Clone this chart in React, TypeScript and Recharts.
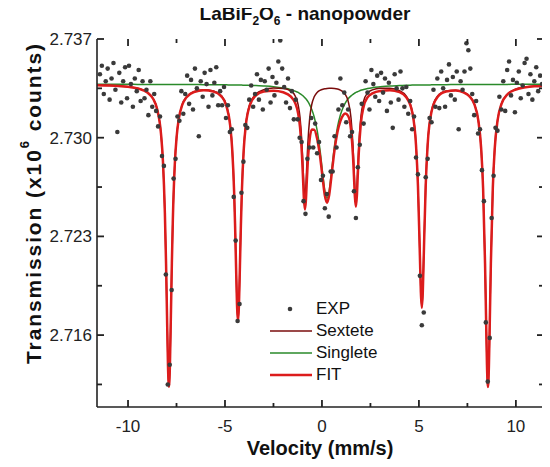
import React from 'react'
import { ComposedChart, Line, Scatter, XAxis, YAxis, Legend } from 'recharts'

const FONT = "'Liberation Sans', Arial, sans-serif"
const AXIS = '#222222'

// measured spectrum (velocity in mm/s, counts in 10^6)
const expVelocity = [
  -11.45, -11.35, -11.25, -11.15, -11.05, -10.95, -10.85, -10.75, -10.65, -10.55,
  -10.45, -10.35, -10.25, -10.15, -10.05, -9.95, -9.85, -9.75, -9.65, -9.55,
  -9.45, -9.35, -9.25, -9.15, -9.05, -8.95, -8.85, -8.75, -8.65, -8.55,
  -8.45, -8.35, -8.25, -8.15, -8.05, -7.95, -7.85, -7.75, -7.65, -7.55,
  -7.45, -7.35, -7.25, -7.15, -7.05, -6.95, -6.85, -6.75, -6.65, -6.55,
  -6.45, -6.35, -6.25, -6.15, -6.05, -5.95, -5.85, -5.75, -5.65, -5.55,
  -5.45, -5.35, -5.25, -5.15, -5.05, -4.95, -4.85, -4.75, -4.65, -4.55,
  -4.45, -4.35, -4.25, -4.15, -4.05, -3.95, -3.85, -3.75, -3.65, -3.55,
  -3.45, -3.35, -3.25, -3.15, -3.05, -2.95, -2.85, -2.75, -2.65, -2.55,
  -2.45, -2.35, -2.25, -2.15, -2.05, -1.95, -1.85, -1.75, -1.65, -1.55,
  -1.45, -1.35, -1.25, -1.15, -1.05, -0.95, -0.85, -0.75, -0.65, -0.55,
  -0.45, -0.35, -0.25, -0.15, -0.05, 0.05, 0.15, 0.25, 0.35, 0.45,
  0.55, 0.65, 0.75, 0.85, 0.95, 1.05, 1.15, 1.25, 1.35, 1.45,
  1.55, 1.65, 1.75, 1.85, 1.95, 2.05, 2.15, 2.25, 2.35, 2.45,
  2.55, 2.65, 2.75, 2.85, 2.95, 3.05, 3.15, 3.25, 3.35, 3.45,
  3.55, 3.65, 3.75, 3.85, 3.95, 4.05, 4.15, 4.25, 4.35, 4.45,
  4.55, 4.65, 4.75, 4.85, 4.95, 5.05, 5.15, 5.25, 5.35, 5.45,
  5.55, 5.65, 5.75, 5.85, 5.95, 6.05, 6.15, 6.25, 6.35, 6.45,
  6.55, 6.65, 6.75, 6.85, 6.95, 7.05, 7.15, 7.25, 7.35, 7.45,
  7.55, 7.65, 7.75, 7.85, 7.95, 8.05, 8.15, 8.25, 8.35, 8.45,
  8.55, 8.65, 8.75, 8.85, 8.95, 9.05, 9.15, 9.25, 9.35, 9.45,
  9.55, 9.65, 9.75, 9.85, 9.95, 10.05, 10.15, 10.25, 10.35, 10.45,
  10.55, 10.65, 10.75, 10.85, 10.95, 11.05, 11.15, 11.25, 11.35,
]

const expCounts = [
  2.7345, 2.7351, 2.7331, 2.734, 2.7349, 2.7327, 2.7342, 2.7353, 2.7334, 2.7304,
  2.7346, 2.7325, 2.734, 2.735, 2.7328, 2.7351, 2.7338, 2.7322, 2.7342, 2.7333,
  2.7348, 2.7326, 2.734, 2.7328, 2.7334, 2.7316, 2.734, 2.7322, 2.7331, 2.7319,
  2.7308, 2.7315, 2.7287, 2.728, 2.7203, 2.7125, 2.7139, 2.7192, 2.7271, 2.7285,
  2.7315, 2.7312, 2.7333, 2.7317, 2.7331, 2.7344, 2.7324, 2.7341, 2.732, 2.7349,
  2.7335, 2.7301, 2.734, 2.7329, 2.7346, 2.7338, 2.7322, 2.7348, 2.733, 2.7339,
  2.735, 2.7323, 2.7333, 2.7323, 2.7336, 2.7314, 2.7323, 2.7304, 2.7306, 2.7258,
  2.7227, 2.717, 2.7182, 2.7261, 2.7283, 2.7309, 2.7307, 2.7327, 2.7337, 2.7322,
  2.7331, 2.7345, 2.7327, 2.7341, 2.732, 2.734, 2.7334, 2.7349, 2.7325, 2.7343,
  2.733, 2.7339, 2.7354, 2.7369, 2.7349, 2.7336, 2.7325, 2.7342, 2.7321, 2.7333,
  2.7313, 2.7327, 2.7313, 2.73, 2.7297, 2.7255, 2.7246, 2.7285, 2.7293, 2.7314,
  2.7293, 2.731, 2.7289, 2.7297, 2.727, 2.7273, 2.725, 2.726, 2.7244, 2.7276,
  2.7276, 2.7301, 2.7293, 2.732, 2.7342, 2.7323, 2.7332, 2.7311, 2.732, 2.7301,
  2.7304, 2.7262, 2.7243, 2.7279, 2.7295, 2.7324, 2.731, 2.734, 2.7332, 2.732,
  2.7348, 2.7338, 2.7329, 2.7344, 2.7326, 2.7346, 2.7332, 2.7342, 2.7319, 2.7339,
  2.7325, 2.7307, 2.7345, 2.7335, 2.7327, 2.7347, 2.7335, 2.7322, 2.7336, 2.7317,
  2.7326, 2.7306, 2.7315, 2.7286, 2.7274, 2.7202, 2.7167, 2.7176, 2.7272, 2.7285,
  2.7314, 2.7311, 2.7334, 2.7322, 2.7342, 2.7321, 2.7347, 2.7335, 2.7322, 2.7341,
  2.7352, 2.733, 2.7343, 2.7327, 2.7347, 2.7306, 2.734, 2.7334, 2.7347, 2.7367,
  2.7362, 2.7349, 2.7331, 2.7316, 2.7326, 2.7303, 2.7306, 2.7277, 2.7255, 2.7169,
  2.7127, 2.7158, 2.7243, 2.7273, 2.7307, 2.7305, 2.7329, 2.732, 2.734, 2.7319,
  2.7348, 2.7354, 2.733, 2.7341, 2.7318, 2.7339, 2.7347, 2.7328, 2.7337, 2.7353,
  2.7356, 2.7331, 2.7345, 2.7327, 2.734, 2.735, 2.7333, 2.7344, 2.7338,
]

// fitted curves
const curveVelocity = [
  -11.6, -11, -10.5, -10, -9.5, -9, -8.7, -8.5, -8.3, -8.2,
  -8.1, -8.04, -7.99, -7.94, -7.89, -7.84, -7.79, -7.74, -7.69, -7.59,
  -7.49, -7.39, -7.2, -7.0, -6.6, -6.1, -5.6, -5.2, -4.93, -4.73,
  -4.63, -4.53, -4.48, -4.43, -4.38, -4.33, -4.28, -4.23, -4.18, -4.13,
  -4.03, -3.93, -3.73, -3.4, -3.0, -2.5, -2.0, -1.6, -1.38, -1.23,
  -1.13, -1.03, -0.98, -0.93, -0.88, -0.83, -0.78, -0.73, -0.63, -0.52,
  -0.4, -0.25, -0.1, 0.05, 0.15, 0.26, 0.37, 0.5, 0.65, 0.8,
  0.95, 1.1, 1.2, 1.35, 1.5, 1.6, 1.65, 1.7, 1.75, 1.8,
  1.85, 1.9, 2.0, 2.15, 2.35, 2.6, 3.0, 3.5, 4.0, 4.35,
  4.65, 4.85, 4.95, 5.05, 5.1, 5.15, 5.2, 5.25, 5.35, 5.45,
  5.65, 5.95, 6.4, 6.9, 7.3, 7.6, 7.86, 8.06, 8.21, 8.31,
  8.41, 8.46, 8.51, 8.56, 8.61, 8.66, 8.71, 8.81, 8.91, 9.06,
  9.26, 9.56, 10.0, 10.5, 11.0, 11.45,
]

const fitCurve = [
  2.73372, 2.7337, 2.73367, 2.73361, 2.73349, 2.7332, 2.73274, 2.73203, 2.73028, 2.72834,
  2.72468, 2.72112, 2.7174, 2.71387, 2.71234, 2.71387, 2.71738, 2.7211, 2.72415, 2.72806,
  2.73012, 2.73127, 2.73235, 2.73284, 2.73324, 2.73336, 2.73328, 2.73295, 2.73226, 2.73084,
  2.72923, 2.72618, 2.7238, 2.72089, 2.71815, 2.71694, 2.71815, 2.72089, 2.7238, 2.72618,
  2.72923, 2.73083, 2.73225, 2.73301, 2.73327, 2.73333, 2.73322, 2.73291, 2.73246, 2.73174,
  2.73074, 2.72875, 2.72724, 2.72567, 2.72491, 2.72552, 2.72693, 2.72829, 2.72994, 2.73058,
  2.73057, 2.72994, 2.72869, 2.72696, 2.72589, 2.72539, 2.72592, 2.7274, 2.72914, 2.7304,
  2.73118, 2.73161, 2.73172, 2.73155, 2.73054, 2.72872, 2.72727, 2.72578, 2.7251, 2.72585,
  2.72742, 2.72894, 2.73093, 2.73222, 2.73286, 2.73314, 2.73332, 2.73336, 2.73323, 2.73286,
  2.73184, 2.72948, 2.72661, 2.72165, 2.71906, 2.71794, 2.71906, 2.72165, 2.72662, 2.72949,
  2.73184, 2.73287, 2.73327, 2.73334, 2.73321, 2.73294, 2.73236, 2.73125, 2.72923, 2.7264,
  2.72108, 2.71737, 2.71385, 2.71232, 2.71385, 2.71737, 2.72108, 2.72641, 2.72924, 2.73126,
  2.7324, 2.73306, 2.73342, 2.73358, 2.73365, 2.73368,
]

const sextetCurve = [
  2.73373, 2.73371, 2.73368, 2.73362, 2.73351, 2.73322, 2.73276, 2.73205, 2.7303, 2.72836,
  2.7247, 2.72114, 2.71742, 2.71389, 2.71236, 2.71389, 2.71741, 2.72113, 2.72417, 2.72808,
  2.73014, 2.73129, 2.73237, 2.73287, 2.73327, 2.7334, 2.73332, 2.733, 2.73232, 2.7309,
  2.72929, 2.72624, 2.72386, 2.72095, 2.71821, 2.71701, 2.71822, 2.72096, 2.72387, 2.72625,
  2.7293, 2.73091, 2.73234, 2.73311, 2.7334, 2.73352, 2.73349, 2.73331, 2.73296, 2.73234,
  2.73142, 2.72953, 2.72807, 2.72657, 2.72588, 2.72657, 2.72807, 2.72953, 2.73141, 2.73239,
  2.7329, 2.73321, 2.73336, 2.73344, 2.73347, 2.73349, 2.7335, 2.7335, 2.73349, 2.73345,
  2.73337, 2.73323, 2.73307, 2.73259, 2.73138, 2.72944, 2.72794, 2.72641, 2.7257, 2.72641,
  2.72794, 2.72944, 2.73138, 2.7326, 2.73317, 2.73339, 2.73351, 2.7335, 2.73333, 2.73295,
  2.73191, 2.72955, 2.72668, 2.72171, 2.71912, 2.718, 2.71912, 2.72171, 2.72668, 2.72955,
  2.73189, 2.73292, 2.73331, 2.73337, 2.73324, 2.73297, 2.73239, 2.73127, 2.72925, 2.72643,
  2.72111, 2.71739, 2.71387, 2.71234, 2.71387, 2.71739, 2.72111, 2.72643, 2.72926, 2.73128,
  2.73242, 2.73308, 2.73344, 2.73359, 2.73366, 2.73369,
]

const singletCurve = [
  2.73379, 2.73379, 2.73379, 2.73379, 2.73378, 2.73378, 2.73378, 2.73378, 2.73378, 2.73378,
  2.73378, 2.73378, 2.73378, 2.73378, 2.73378, 2.73378, 2.73378, 2.73378, 2.73378, 2.73378,
  2.73378, 2.73378, 2.73377, 2.73377, 2.73377, 2.73376, 2.73376, 2.73375, 2.73375, 2.73374,
  2.73374, 2.73374, 2.73374, 2.73374, 2.73373, 2.73373, 2.73373, 2.73373, 2.73373, 2.73373,
  2.73372, 2.73372, 2.73371, 2.7337, 2.73367, 2.73362, 2.73353, 2.73341, 2.7333, 2.73321,
  2.73312, 2.73303, 2.73297, 2.7329, 2.73283, 2.73276, 2.73267, 2.73257, 2.73233, 2.73198,
  2.73147, 2.73053, 2.72913, 2.72732, 2.72622, 2.7257, 2.72622, 2.7277, 2.72945, 2.73075,
  2.73161, 2.73218, 2.73246, 2.73276, 2.73297, 2.73308, 2.73312, 2.73317, 2.73321, 2.73324,
  2.73327, 2.7333, 2.73336, 2.73342, 2.73349, 2.73355, 2.73361, 2.73367, 2.7337, 2.73372,
  2.73373, 2.73374, 2.73374, 2.73374, 2.73374, 2.73374, 2.73374, 2.73374, 2.73374, 2.73374,
  2.73375, 2.73376, 2.73376, 2.73377, 2.73377, 2.73377, 2.73378, 2.73378, 2.73378, 2.73378,
  2.73378, 2.73378, 2.73378, 2.73378, 2.73378, 2.73378, 2.73378, 2.73378, 2.73378, 2.73378,
  2.73378, 2.73378, 2.73379, 2.73379, 2.73379, 2.73379,
]

const seriesNames = ['EXP', 'Sextete', 'Singlete', 'FIT']
const seriesColors = ['#3a3a3a', '#7a0c0c', '#2a8a2a', '#dc1c1c']

const xMajorTicks = [-10, -5, 0, 5, 10]
const xMinorTicks = [-7.5, -2.5, 2.5, 7.5]
const yMajorTicks = [2.716, 2.723, 2.73, 2.737]
const yMinorTicks = [2.7125, 2.7195, 2.7265, 2.7335]

const xDomain = [-11.6, 11.45]
const yDomain = [2.7109, 2.737]

// plot box in page pixels, same numbers as the chart margins / axis sizes below
const PLOT = { left: 97, right: 544, top: 39, bottom: 407 }

const expData = expVelocity.map((v, i) => ({ v, y: expCounts[i] }))
const curveData = curveVelocity.map((v, i) => ({
  v,
  fit: fitCurve[i],
  sex: sextetCurve[i],
  sing: singletCurve[i],
}))

const axisLine = { stroke: AXIS, strokeWidth: 1.6 }

const BottomLabel = (props: any) => (
  <text x={props.x} y={Number(props.y) + 25} textAnchor="middle" fontSize={17} fontFamily={FONT} fill="#222">
    {props.payload.value}
  </text>
)

const LeftLabel = (props: any) => (
  <text x={Number(props.x) - 5} y={props.y} dy="0.35em" textAnchor="end" fontSize={17} fontFamily={FONT} fill="#222">
    {props.payload.value.toFixed(3)}
  </text>
)

const YTitle = () => (
  <text
    transform="rotate(-90 33 204)"
    x={33}
    y={204}
    textAnchor="middle"
    dominantBaseline="central"
    fontSize={21}
    fontWeight="bold"
    fontFamily={FONT}
    fill="#111"
    textLength={320}
    lengthAdjust="spacing"
  >
    Transmission (x10
    <tspan dy={-9} fontSize={13}>6</tspan>
    <tspan dy={9}> counts)</tspan>
  </text>
)

// inward tick marks on all four sides of the frame
const TickMarks = () => {
  const px = (v: number) => PLOT.left + ((v - xDomain[0]) / (xDomain[1] - xDomain[0])) * (PLOT.right - PLOT.left)
  const py = (v: number) => PLOT.bottom - ((v - yDomain[0]) / (yDomain[1] - yDomain[0])) * (PLOT.bottom - PLOT.top)
  const marks: React.ReactNode[] = []
  const xs = [...xMajorTicks.map((v) => [v, 7]), ...xMinorTicks.map((v) => [v, 4])]
  const ys = [...yMajorTicks.map((v) => [v, 7]), ...yMinorTicks.map((v) => [v, 5])]
  xs.forEach(([v, len]) => {
    const x = px(v)
    marks.push(<line key={`b${v}`} x1={x} x2={x} y1={PLOT.bottom} y2={PLOT.bottom - len} />)
    marks.push(<line key={`t${v}`} x1={x} x2={x} y1={PLOT.top} y2={PLOT.top + len} />)
  })
  ys.forEach(([v, len]) => {
    const y = py(v)
    marks.push(<line key={`l${v}`} x1={PLOT.left} x2={PLOT.left + len} y1={y} y2={y} />)
    marks.push(<line key={`r${v}`} x1={PLOT.right} x2={PLOT.right - len} y1={y} y2={y} />)
  })
  return (
    <svg
      width={550}
      height={467}
      style={{ position: 'absolute', left: 0, top: 0, pointerEvents: 'none' }}
    >
      <g stroke={AXIS} strokeWidth={1.8}>{marks}</g>
    </svg>
  )
}

const Dot = (props: any) => {
  const { cx, cy } = props
  if (cx == null || cy == null) return null
  return <circle cx={cx} cy={cy} r={2.3} fill={seriesColors[0]} />
}

const renderLegend = () => (
  <div style={{ fontFamily: FONT, fontSize: 17, color: '#111' }}>
    {seriesNames.map((name, i) => (
      <div key={name} style={{ display: 'flex', alignItems: 'center', height: 22 }}>
        <svg width={44} height={22} style={{ display: 'block' }}>
          {i === 0 ? (
            <circle cx={20} cy={11} r={2.3} fill={seriesColors[0]} />
          ) : (
            <line x1={0} x2={42} y1={11} y2={11} stroke={seriesColors[i]} strokeWidth={i === 3 ? 2.5 : 1.5} />
          )}
        </svg>
        <span style={{ marginLeft: 2, lineHeight: '22px' }}>{name}</span>
      </div>
    ))}
  </div>
)

const common = { type: 'number' as const, allowDataOverflow: true, interval: 0 as const, tickSize: 0, tickMargin: 0, tickLine: false, axisLine }

export default function App() {
  return (
    <div style={{ position: 'relative', margin: -8, width: 550, height: 467 }}>
      <ComposedChart width={550} height={467} margin={{ top: PLOT.top, right: 550 - PLOT.right, bottom: 0, left: 0 }}>
        <XAxis dataKey="v" domain={xDomain} ticks={xMajorTicks} height={467 - PLOT.bottom} tick={<BottomLabel />} {...common} />
        <XAxis xAxisId="top" orientation="top" dataKey="v" domain={xDomain} ticks={xMajorTicks} height={0} tick={false} {...common} />
        <YAxis domain={yDomain} ticks={yMajorTicks} width={PLOT.left} tick={<LeftLabel />} {...common} label={<YTitle />} />
        <YAxis yAxisId="right" orientation="right" domain={yDomain} ticks={yMajorTicks} width={0} tick={false} {...common} />

        <Line data={curveData} dataKey="sing" type="monotone" stroke={seriesColors[2]} strokeWidth={1.5} dot={false} isAnimationActive={false} />
        <Line data={curveData} dataKey="sex" type="monotone" stroke={seriesColors[1]} strokeWidth={1.5} dot={false} isAnimationActive={false} />
        <Line data={curveData} dataKey="fit" type="monotone" stroke={seriesColors[3]} strokeWidth={2.5} dot={false} isAnimationActive={false} />
        <Scatter data={expData} dataKey="y" shape={<Dot />} isAnimationActive={false} />
        <Legend
          content={renderLegend}
          layout="vertical"
          align="center"
          verticalAlign="middle"
          wrapperStyle={{ left: 270, top: 298, width: 140 }}
        />
      </ComposedChart>
      <TickMarks />
      <div
        style={{
          position: 'absolute',
          left: 155,
          top: 3,
          width: 300,
          textAlign: 'center',
          fontFamily: FONT,
          fontWeight: 'bold',
          fontSize: 19,
          color: '#111',
          whiteSpace: 'nowrap',
        }}
      >
        LaBiF<sub style={{ fontSize: 12 }}>2</sub>O<sub style={{ fontSize: 12 }}>6</sub> - nanopowder
      </div>
      <div
        style={{
          position: 'absolute',
          left: 170,
          top: 437,
          width: 300,
          textAlign: 'center',
          fontFamily: FONT,
          fontWeight: 'bold',
          fontSize: 20,
          lineHeight: '23px',
          color: '#111',
          whiteSpace: 'nowrap',
        }}
      >
        Velocity (mm/s)
      </div>
    </div>
  )
}
